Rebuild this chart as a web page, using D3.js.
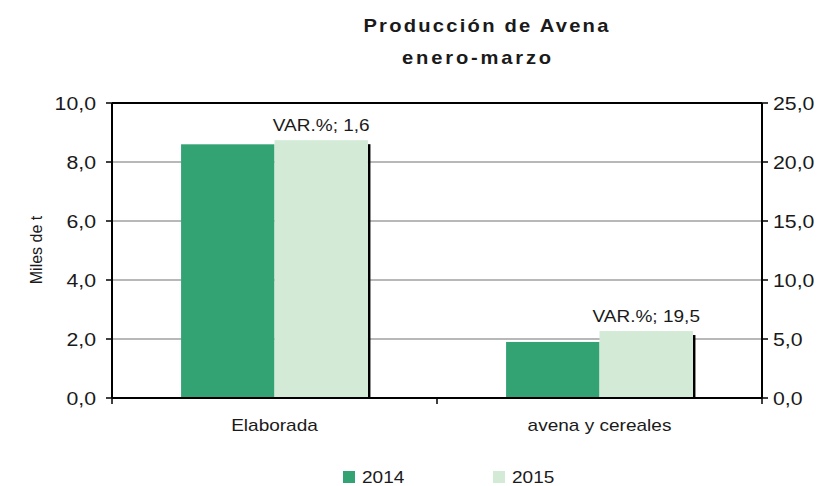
<!DOCTYPE html>
<html>
<head>
<meta charset="utf-8">
<script src="https://cdn.jsdelivr.net/npm/d3@7"></script>
<style>
  body { margin: 0; background: #fff; }
  svg text { font-family: "Liberation Sans", Arial, sans-serif; fill: #1a1a1a; }
</style>
</head>
<body>
<div id="chart"></div>
<script>
// data
var categories = ["Elaborada", "avena y cereales"];
var years = ["2014", "2015"];
var values2014 = [8.6, 1.9];
var values2015 = [8.74, 2.27];
var varPct = ["1,6", "19,5"];
var leftTicks = [0, 2, 4, 6, 8, 10];
var rightTicks = [0, 5, 10, 15, 20, 25];

var w = 827, h = 486;
var plotL = 112, plotR = 762, plotT = 103, plotB = 398;
var sx = 1.12; // the original text is a bit stretched sideways

var color = d3.scaleOrdinal().domain(years).range(["#33a374", "#d3ebd6"]);

var svg = d3.select("#chart").append("svg")
    .attr("width", w)
    .attr("height", h);

var y = d3.scaleLinear().domain([0, 10]).range([plotB, plotT]);
var y2 = d3.scaleLinear().domain([0, 25]).range([plotB, plotT]);
var x = d3.scaleBand().domain(categories).range([plotL, plotR])
    .paddingInner(0.425).paddingOuter(0.2125);
var xs = d3.scaleBand().domain(years).range([0, x.bandwidth()]);

var fmt = function (d) { return d3.format(".1f")(d).replace(".", ","); };

// place a text with a horizontal stretch
function put(sel, px, py) {
    return sel.attr("transform", "translate(" + px + "," + py + ") scale(" + sx + ",1)");
}

// gridlines
svg.append("g").selectAll("line")
    .data(leftTicks.filter(function (d) { return d > 0 && d < 10; }))
    .enter().append("line")
    .attr("x1", plotL).attr("x2", plotR)
    .attr("y1", function (d) { return y(d); })
    .attr("y2", function (d) { return y(d); })
    .style("stroke", "#a0a0a0")
    .style("stroke-width", 1.5);

// top border
svg.append("line")
    .attr("x1", plotL).attr("x2", plotR)
    .attr("y1", y(10)).attr("y2", y(10))
    .style("stroke", "#000").style("stroke-width", 2);

// bars
var rows = categories.map(function (c, i) {
    return { cat: c, vals: [values2014[i], values2015[i]], pct: varPct[i] };
});

var groups = svg.selectAll("g.grp")
    .data(rows)
    .enter().append("g")
    .attr("class", "grp")
    .attr("transform", function (d) { return "translate(" + x(d.cat) + ",0)"; });

// shadow at the right edge of the 2015 bar
groups.append("rect")
    .attr("x", xs("2015") + xs.bandwidth())
    .attr("y", function (d) { return y(d.vals[1]) + 4; })
    .attr("width", 2.5)
    .attr("height", function (d) { return plotB - y(d.vals[1]) - 4; })
    .style("fill", "#000");

groups.selectAll("rect.bar")
    .data(function (d) { return d.vals.map(function (v, j) { return { yr: years[j], v: v }; }); })
    .enter().append("rect")
    .attr("class", "bar")
    .attr("x", function (d) { return xs(d.yr); })
    .attr("y", function (d) { return y(d.v); })
    .attr("width", xs.bandwidth())
    .attr("height", function (d) { return plotB - y(d.v); })
    .style("fill", function (d) { return color(d.yr); });

// VAR.% labels above the 2015 bar
groups.each(function (d) {
    put(d3.select(this).append("text"), xs("2015") + xs.bandwidth() / 2, y(d.vals[1]) - 9)
        .attr("text-anchor", "middle")
        .style("font-size", "17px")
        .text("VAR.%; " + d.pct);
});

// left axis
svg.append("line")
    .attr("x1", plotL).attr("x2", plotL).attr("y1", plotT).attr("y2", plotB)
    .style("stroke", "#000").style("stroke-width", 2);
var lt = svg.append("g").selectAll("g").data(leftTicks).enter().append("g");
lt.append("line")
    .attr("x1", plotL - 6).attr("x2", plotL)
    .attr("y1", function (d) { return y(d); }).attr("y2", function (d) { return y(d); })
    .style("stroke", "#000").style("stroke-width", 1.5);
lt.each(function (d) {
    put(d3.select(this).append("text"), plotL - 16, y(d) + 6.5)
        .attr("text-anchor", "end")
        .style("font-size", "19px")
        .text(fmt(d));
});

// right axis
svg.append("line")
    .attr("x1", plotR).attr("x2", plotR).attr("y1", plotT).attr("y2", plotB)
    .style("stroke", "#000").style("stroke-width", 2);
var rt = svg.append("g").selectAll("g").data(rightTicks).enter().append("g");
rt.append("line")
    .attr("x1", plotR).attr("x2", plotR + 6)
    .attr("y1", function (d) { return y2(d); }).attr("y2", function (d) { return y2(d); })
    .style("stroke", "#000").style("stroke-width", 1.5);
rt.each(function (d) {
    put(d3.select(this).append("text"), plotR + 11, y2(d) + 6.5)
        .attr("text-anchor", "start")
        .style("font-size", "19px")
        .text(fmt(d));
});

// bottom axis
svg.append("line")
    .attr("x1", plotL).attr("x2", plotR).attr("y1", plotB).attr("y2", plotB)
    .style("stroke", "#000").style("stroke-width", 2);
var edges = [plotL].concat(categories.map(function (c) { return x(c) + x.bandwidth() + x.step() * x.paddingInner() / 2; }));
svg.append("g").selectAll("line").data(edges).enter().append("line")
    .attr("x1", function (d) { return d; }).attr("x2", function (d) { return d; })
    .attr("y1", plotB).attr("y2", plotB + 6)
    .style("stroke", "#000").style("stroke-width", 1.5);
categories.forEach(function (c) {
    put(svg.append("text"), x(c) + x.bandwidth() / 2, 431)
        .attr("text-anchor", "middle")
        .style("font-size", "17px")
        .text(c);
});

// y title
svg.append("text")
    .attr("transform", "translate(42,250) rotate(-90)")
    .attr("text-anchor", "middle")
    .style("font-size", "16px")
    .text("Miles de t");

// title
put(svg.append("text"), 487, 32)
    .attr("text-anchor", "middle")
    .style("font-size", "18px")
    .style("font-weight", "bold")
    .style("letter-spacing", "2px")
    .text("Producción de Avena");
put(svg.append("text"), 478, 64)
    .attr("text-anchor", "middle")
    .style("font-size", "18px")
    .style("font-weight", "bold")
    .style("letter-spacing", "2.5px")
    .text("enero-marzo");

// legend
var legendX = [343, 493];
var legend = svg.selectAll("g.leg")
    .data(years)
    .enter().append("g")
    .attr("class", "leg")
    .attr("transform", function (d, i) { return "translate(" + legendX[i] + ",471)"; });
legend.append("rect")
    .attr("width", 12).attr("height", 12)
    .style("fill", color);
legend.each(function (d) {
    put(d3.select(this).append("text"), 19, 12)
        .style("font-size", "17px")
        .text(d);
});
</script>
</body>
</html>
